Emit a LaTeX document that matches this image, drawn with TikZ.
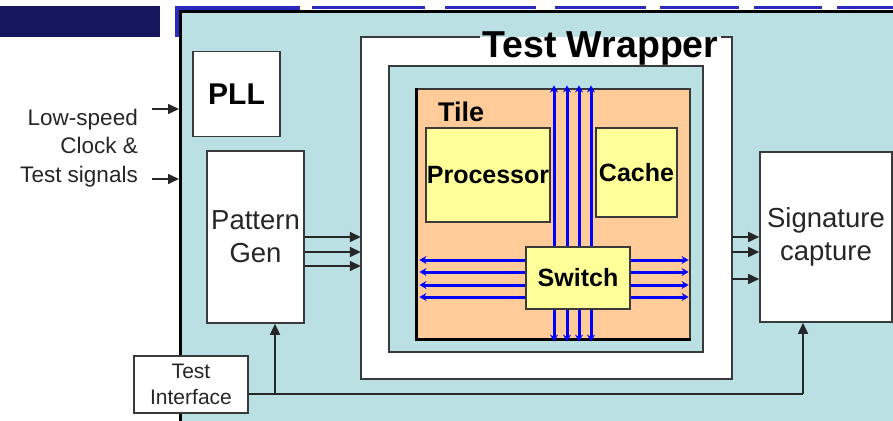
\documentclass[tikz,border=0pt]{standalone}
\usepackage{fontspec}
\setmainfont{Liberation Sans}
\usetikzlibrary{arrows.meta}
\definecolor{cyanbg}{HTML}{BAE0E3}
\definecolor{tileor}{HTML}{FFCC99}
\definecolor{paleyel}{HTML}{FFFF99}
\definecolor{navy}{HTML}{16165E}
\definecolor{stripe}{HTML}{2A2ABE}
\definecolor{edge}{HTML}{3A3A3A}
\definecolor{ink}{HTML}{262626}
\definecolor{netblue}{HTML}{0000FF}
\begin{document}
\begin{tikzpicture}[x=1pt,y=-1pt,
  box/.style={draw=edge, line width=1.6pt, fill=white, inner sep=0pt, align=center, text=ink},
  yelbox/.style={draw=edge, line width=1.2pt, fill=paleyel, inner sep=0pt, align=center},
  arr/.style={draw=ink, line width=1.6pt, -{Triangle[length=11pt,width=10pt]}},
  netline/.style={netblue, line width=3pt, {Stealth[length=7pt,width=8pt]}-{Stealth[length=7pt,width=8pt]}},
  big/.style={font=\fontsize{27.5}{33}\selectfont},
  small/.style={font=\fontsize{22.5}{28.5}\selectfont},
  bolder/.style={font=\fontsize{25}{30}\selectfont\bfseries},
]
\useasboundingbox (0,0) rectangle (893,420);
\clip (0,0) rectangle (893,420);

% header band behind the board
\fill[navy] (0,6) rectangle (160,37);
\fill[stripe] (175,6) rectangle (300,37);
\foreach \a/\b in {312/425, 445/536, 555/646, 660/739, 754/822, 837/893}
  \fill[stripe] (\a,6) rectangle (\b,9);

% board
\node[draw=black, line width=3pt, fill=cyanbg, minimum width=730pt, minimum height=420pt,
      anchor=north west] (main) at (179,10) {};

% blocks on the board
\node[box, minimum width=87pt, minimum height=85pt, font=\fontsize{30}{34}\selectfont\bfseries, text=black]
  (pll) at (236.5,94) {PLL};
\node[box, big, minimum width=97pt, minimum height=172pt] (pg) at (255.5,237) {Pattern\\Gen};
\node[box, big, minimum width=132pt, minimum height=170pt] (sig) at (826,237) {Signature\\capture};
\node[box, font=\fontsize{21}{26}\selectfont, minimum width=114pt, minimum height=57pt]
  (ti) at (191,384.5) {Test\\Interface};

% wrapper
\node[fill=white, minimum width=371pt, minimum height=342pt, inner sep=0pt] (wrap) at (546.5,208) {};
\node[anchor=base west, inner sep=0pt, font=\fontsize{37.5}{40}\selectfont\bfseries] (title) at (482,57) {Test Wrapper};
\draw[edge, line width=1.6pt] ([xshift=-2pt]title.west |- wrap.north) -- (wrap.north west) -- (wrap.south west)
  -- (wrap.south east) -- (wrap.north east) -- ([xshift=2pt]title.east |- wrap.north);
\node[draw=edge, line width=1.6pt, fill=cyanbg, minimum width=314pt, minimum height=286pt] (inner) at (546,209) {};

% tile
\node[draw=edge, line width=1.2pt, fill=tileor, minimum width=273pt, minimum height=250pt] (tile) at (553.5,214) {};
\draw[black, line width=3pt] (tile.north west) -- (tile.south west) -- (tile.south east);
\node[anchor=west, inner sep=0pt, font=\fontsize{27}{30}\selectfont\bfseries] (tlbl) at (438,112) {Tile};
\node[yelbox, bolder, minimum width=124pt, minimum height=94pt] (cpu) at (488,175) {Processor};
\node[yelbox, bolder, minimum width=81pt, minimum height=89pt] (cache) at (636.5,172.5) {Cache};

% on-tile network
\coordinate (ntop) at ([yshift=3pt]tile.north);
\coordinate (nbot) at ([yshift=-2pt]tile.south);
\coordinate (nleft) at ([xshift=3pt]tile.west);
\coordinate (nright) at ([xshift=-2pt]tile.east);
\foreach \x in {554,567,579,591}
  \draw[netline] (ntop -| \x,0) -- (nbot -| \x,0);
\foreach \y in {260,272,285,297}
  \draw[netline] (nleft |- 0,\y) -- (nright |- 0,\y);
\node[yelbox, bolder, minimum width=104pt, minimum height=62pt] (sw) at (578,278) {Switch};

% external inputs
\node[small, align=right, anchor=east, inner sep=0pt, text=ink] (inlbl) at (138,148) {Low-speed\\Clock \&\\Test signals};
\coordinate (in1) at (152,109);
\coordinate (in2) at (152,179);
\draw[arr] (in1) -- (in1 -| main.west);
\draw[arr] (in2) -- (in2 -| main.west);

% patterns in, signatures out
\foreach \y in {237,252,266}
  \draw[arr] (pg.east |- 0,\y) -- (wrap.west |- 0,\y);
\foreach \y in {237,252,279}
  \draw[arr] (wrap.east |- 0,\y) -- (sig.west |- 0,\y);

% test interface bus
\coordinate (tap1) at (275,394);
\coordinate (tap2) at (803,394);
\draw[ink, line width=1.6pt] (ti.east |- tap1) -- (tap2);
\draw[arr] (tap1) -- (tap1 |- pg.south);
\draw[arr] (tap2) -- (tap2 |- sig.south);
\end{tikzpicture}
\end{document}
